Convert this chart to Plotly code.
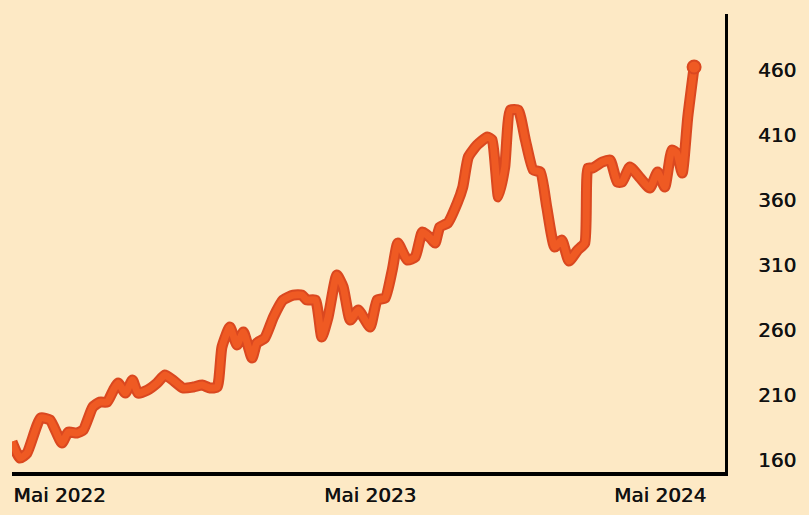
import pandas as pd
import plotly.graph_objects as go

# Days relative to 1 May 2023 and the series values
base_date = "2023-05-01"
day_offsets = [-452, -442, -433, -416, -404, -389, -381, -370, -362, -350,
               -341, -332, -324, -318, -309, -300, -293, -281, -269, -259,
               -249, -236, -223, -212, -202, -193, -187, -177, -168, -160,
               -149, -143, -133, -122, -110, -97, -86, -80, -69, -61,
               -53, -42, -34, -25, -15, 0, 9, 19, 28, 35,
               47, 57, 66, 76, 82, 88, 98, 110, 117, 124,
               135, 148, 154, 162, 170, 177, 187, 196, 206, 215,
               223, 233, 242, 251, 262, 271, 275, 281, 293, 303,
               312, 318, 328, 341, 353, 363, 372, 381, 387, 394,
               401, 409]
values = [174, 161.5, 165.4, 192.3, 190.8, 173.1, 181.5, 180.8, 183.1, 200.8,
          204.6, 204.6, 213.8, 219.2, 211.5, 221.5, 211.5, 213.8, 219.2, 225.4,
          221.5, 215.4, 216.2, 217.7, 215.4, 216.2, 246.9, 262.3, 248.5, 258.5,
          238.5, 250, 253.8, 270, 283.1, 286.9, 286.9, 283.1, 283.1, 254.6,
          270, 302.3, 293.1, 267.7, 275.4, 262.3, 283.1, 284.6, 306.2, 326.9,
          313.8, 316.2, 335.4, 330.8, 326.9, 339.2, 342.3, 357.7, 370, 393.1,
          402.3, 408.5, 406.2, 362.3, 385.4, 429.2, 429.2, 406.2, 383.1, 381.5,
          354.6, 323.8, 329.2, 313.1, 321.5, 326.9, 384.6, 384.6, 389.2, 390.8,
          373.8, 373.8, 385.4, 376.9, 369.2, 381.5, 370, 398.5, 396.2, 380.8,
          423.8, 462.3]

x_tick_dates = ["2022-04-04", "2023-05-01", "2024-05-01"]
x_tick_text = ["Mai 2022", "Mai 2023", "Mai 2024"]
y_ticks = [160, 210, 260, 310, 360, 410, 460]
x_range = ["2022-02-03", "2024-07-22"]
y_range = [150.8, 503.1]

dates = pd.Timestamp(base_date) + pd.to_timedelta(day_offsets, unit="D")

BG = "#FDE9C5"
font = dict(family="DejaVu Sans, sans-serif", size=20, color="#111111",
            shadow="0.6px 0 0 #111111")

fig = go.Figure()
fig.add_trace(go.Scatter(x=dates, y=values, mode="lines",
                         line=dict(color="#DA4820", width=11, shape="spline", smoothing=0.5),
                         hoverinfo="skip", showlegend=False))
fig.add_trace(go.Scatter(x=dates, y=values, mode="lines",
                         line=dict(color="#EF5A23", width=7, shape="spline", smoothing=0.5),
                         showlegend=False))
fig.add_trace(go.Scatter(x=[dates[-1]], y=[values[-1]], mode="markers",
                         marker=dict(color="#EF5A23", size=13,
                                     line=dict(color="#DA4820", width=2)),
                         showlegend=False))

fig.update_layout(
    width=809, height=515,
    margin=dict(l=12, r=84, t=14, b=43),
    paper_bgcolor=BG, plot_bgcolor=BG,
    font=font,
    xaxis=dict(type="date", range=x_range, showgrid=False, zeroline=False,
               showline=True, linecolor="black", linewidth=4, automargin=False,
               tickvals=x_tick_dates, ticktext=x_tick_text, ticks="",
               tickfont=font, ticklabelstandoff=2),
    yaxis=dict(side="right", range=y_range, showgrid=False, zeroline=False,
               showline=True, linecolor="black", linewidth=3, automargin=False,
               tickvals=y_ticks, ticks="", tickfont=font,
               ticklabelstandoff=26),
)

fig.write_html("out.html", config={"displayModeBar": False},
               post_script="document.body.style.margin='0';"
                           "document.body.style.background='" + BG + "';")
